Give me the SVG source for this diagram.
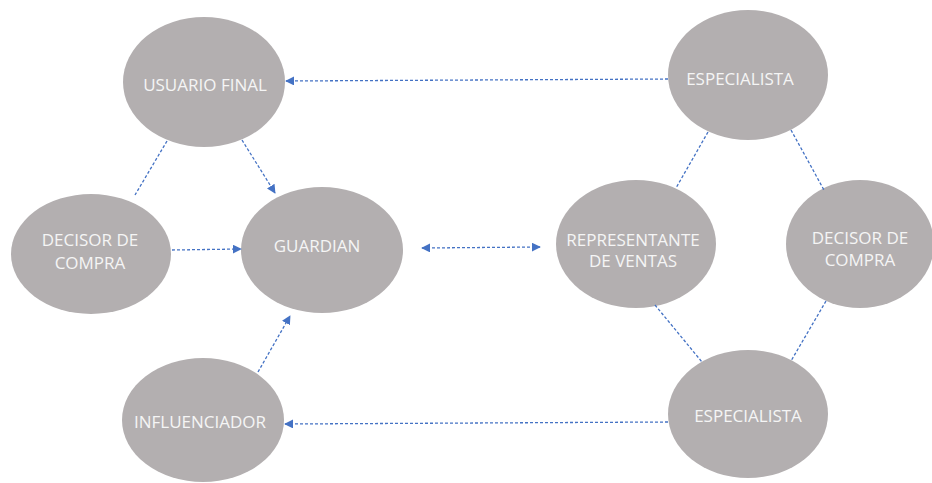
<svg xmlns="http://www.w3.org/2000/svg" width="932" height="483" viewBox="0 0 932 483">
  <style>
    .node ellipse { fill: #b3afb0; }
    .node text { fill: #f5f5f5; font-family: "Open Sans", "Liberation Sans", sans-serif; font-size: 17px; text-anchor: middle; }
    .conn line { stroke: #4472c4; stroke-width: 1.3; stroke-dasharray: 3 2; fill: none; }
  </style>
  <defs>
    <marker id="arr" viewBox="0 0 10 10" refX="9" refY="5" markerWidth="9" markerHeight="9" markerUnits="userSpaceOnUse" orient="auto-start-reverse">
      <path d="M0,0 L10,5 L0,10 Z" fill="#4472c4"/>
    </marker>
  </defs>
  <rect width="932" height="483" fill="#ffffff"/>

  <g id="usuario-final" class="node">
    <ellipse cx="204" cy="82" rx="81" ry="65"/>
    <text x="205" y="91">USUARIO FINAL</text>
  </g>
  <g id="decisor-izq" class="node">
    <ellipse cx="91" cy="254" rx="80" ry="60"/>
    <text x="90" y="246">DECISOR DE</text>
    <text x="90" y="269">COMPRA</text>
  </g>
  <g id="guardian" class="node">
    <ellipse cx="322" cy="250" rx="81" ry="63"/>
    <text x="317" y="252">GUARDIAN</text>
  </g>
  <g id="influenciador" class="node">
    <ellipse cx="203" cy="420" rx="81" ry="62"/>
    <text x="200" y="428">INFLUENCIADOR</text>
  </g>
  <g id="especialista-sup" class="node">
    <ellipse cx="748" cy="75" rx="80" ry="65"/>
    <text x="740" y="85">ESPECIALISTA</text>
  </g>
  <g id="representante" class="node">
    <ellipse cx="636" cy="244" rx="80" ry="64"/>
    <text x="633" y="246">REPRESENTANTE</text>
    <text x="633" y="267">DE VENTAS</text>
  </g>
  <g id="decisor-der" class="node">
    <ellipse cx="860" cy="244" rx="74" ry="64"/>
    <text x="860" y="244">DECISOR DE</text>
    <text x="860" y="266">COMPRA</text>
  </g>
  <g id="especialista-inf" class="node">
    <ellipse cx="748" cy="414" rx="80" ry="64"/>
    <text x="748" y="422">ESPECIALISTA</text>
  </g>

  <g id="connectors" class="conn">
    <line x1="668" y1="79" x2="286" y2="81" marker-end="url(#arr)"/>
    <line x1="242" y1="140" x2="275" y2="193" marker-end="url(#arr)"/>
    <line x1="167" y1="141" x2="135" y2="195"/>
    <line x1="172" y1="250" x2="241" y2="249" marker-end="url(#arr)"/>
    <line x1="258" y1="372" x2="290" y2="316" marker-end="url(#arr)"/>
    <line x1="668" y1="422" x2="285" y2="424" marker-end="url(#arr)"/>
    <line x1="422" y1="248" x2="540" y2="247" marker-start="url(#arr)" marker-end="url(#arr)"/>
    <line x1="708" y1="132" x2="676" y2="188"/>
    <line x1="791" y1="130" x2="824" y2="190"/>
    <line x1="655" y1="305" x2="702" y2="362"/>
    <line x1="826" y1="301" x2="791" y2="361"/>
  </g>
</svg>
